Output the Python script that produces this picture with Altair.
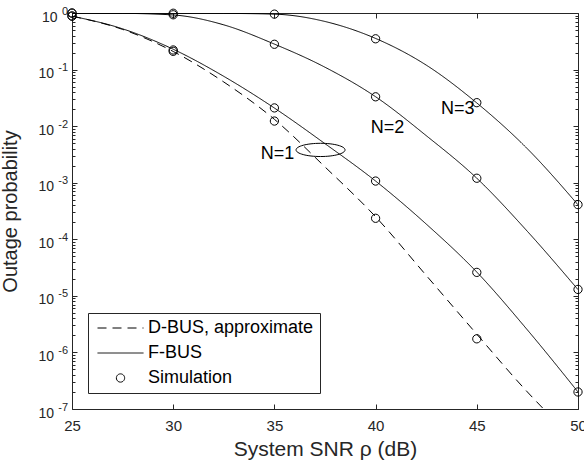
import altair as alt
import pandas as pd

# ---------------- data ----------------
kinds = ["D-BUS, approximate", "F-BUS", "Simulation"]

snr_grid = [25, 27.5, 30, 32.5, 35, 37.5, 40, 42.5, 45, 47.5, 50]
fbus_n1 = [0.88, 0.525, 0.229, 0.0759, 0.0209, 4.9e-3, 1.07e-3, 1.86e-4, 2.63e-5, 2.5e-6, 2.0e-7]
fbus_n2 = [0.995, 0.986, 0.923, 0.617, 0.282, 0.110, 0.0331, 6.8e-3, 1.2e-3, 1.38e-4, 1.29e-5]
fbus_n3 = [1.0, 0.998, 0.993, 0.985, 0.955, 0.708, 0.355, 0.120, 0.0257, 3.98e-3, 4.07e-4]

dbus_snr = [25, 27.5, 30, 32.5, 35, 37.5, 40, 42.5, 45, 47.5, 48.3]
dbus_n1 = [0.88, 0.513, 0.209, 0.0603, 0.0132, 1.9e-3, 2.5e-4, 2.3e-5, 2.1e-6, 2.0e-7, 1.0e-7]

sim_snr = [25, 30, 35, 40, 45, 50]
sim_n1 = [0.885, 0.222, 0.021, 1.07e-3, 2.6e-5, 2.0e-7]
sim_n2 = [0.995, 0.93, 0.28, 0.033, 1.2e-3, 1.3e-5]
sim_n3 = [1.0, 0.99, 0.955, 0.35, 0.026, 4.1e-4]
sim_dbus_snr = [25, 30, 35, 40, 45]
sim_dbus = [0.88, 0.21, 0.0123, 2.35e-4, 1.74e-6]

ann_text = ["N=1", "N=2", "N=3"]
ann_x = [35.15, 40.59, 44.06]
ann_y = [3.24e-3, 9.3e-3, 2.04e-2]
ellipse_x = [37.28]
ellipse_y = [3.8e-3]

x_ticks = [25, 30, 35, 40, 45, 50]
y_major = [1, 1e-1, 1e-2, 1e-3, 1e-4, 1e-5, 1e-6, 1e-7]
y_exponents = ["0", "-1", "-2", "-3", "-4", "-5", "-6", "-7"]
minor_mult = [2, 3, 4, 5, 6, 7, 8, 9]
y_minor = [m * 10.0 ** k for k in range(-7, 0) for m in minor_mult]

# ---------------- tables ----------------
def curve_rows(specs):
    out = []
    for name, xs_, ys_, kind in specs:
        for a, b in zip(xs_, ys_):
            out.append({"snr": a, "p": b, "curve": name, "kind": kind})
    return pd.DataFrame(out)

solid_df = curve_rows([("F1", snr_grid, fbus_n1, "F-BUS"),
                       ("F2", snr_grid, fbus_n2, "F-BUS"),
                       ("F3", snr_grid, fbus_n3, "F-BUS")])
dashed_df = curve_rows([("D1", dbus_snr, dbus_n1, "D-BUS, approximate")])
simf_df = curve_rows([("S1", sim_snr, sim_n1, "Simulation"),
                      ("S2", sim_snr, sim_n2, "Simulation"),
                      ("S3", sim_snr, sim_n3, "Simulation")])
simd_df = curve_rows([("SD", sim_dbus_snr, sim_dbus, "Simulation")])
ann_df = pd.DataFrame({"snr": ann_x, "p": ann_y, "t": ann_text})
ell_df = pd.DataFrame({"snr": ellipse_x, "p": ellipse_y})

# ---------------- styling ----------------
FONT = "Liberation Sans"
AX = "#262626"
xsc = alt.Scale(domain=[25, 50], nice=False, zero=False)
ysc = alt.Scale(type="log", domain=[1e-7, 1], nice=False)

circle_path = "M-0.18,0A0.18,0.18 0 1,0 0.18,0A0.18,0.18 0 1,0 -0.18,0Z"
ellipse_path = "M-1,0A1,0.27 0 1,0 1,0A1,0.27 0 1,0 -1,0Z"

exp_expr = "[" + ",".join("'%s'" % s for s in y_exponents) + "][round(-log(datum.value)/LN10)]"

legend = alt.Legend(
    title=None, orient="bottom-left", offset=16,
    symbolSize=2116, symbolStrokeWidth=1, symbolStrokeColor="black",
    symbolFillColor="transparent", symbolOpacity=1, symbolOffset=3, clipHeight=18,
    labelFont=FONT, labelFontSize=18, labelColor="black", labelOffset=4, labelLimit=400,
    strokeColor=AX, fillColor="white", padding=6, rowPadding=7,
)
dash_scale = alt.Scale(domain=kinds, range=[[9, 6], [1, 0], [1, 0]])
shape_scale = alt.Scale(domain=kinds, range=["stroke", "stroke", circle_path])

x_bottom = alt.Axis(orient="bottom", values=x_ticks, offset=-5, tickSize=5, format="d",
                    title="System SNR ρ (dB)", titlePadding=5, labelPadding=9, titleFontSize=21)
x_top = alt.Axis(orient="top", values=x_ticks, offset=-5, tickSize=5, labels=False, title=None)

# left: major ticks + "10" bases for negative exponents (and the axis title)
y_left_main = alt.Axis(orient="left", values=y_major, offset=-5, tickSize=5,
                       labelExpr="datum.value == 1 ? '' : '10'", labelFontSize=14,
                       labelPadding=18.5, labelOffset=4,
                       title="Outage probability", titlePadding=17, titleFontSize=20)
# "10" base for 10^0
y_left_one = alt.Axis(orient="left", values=[1], ticks=False, labelExpr="'10'",
                      labelFontSize=14, labelPadding=15, labelOffset=4, title=None)
# exponents
y_left_exp = alt.Axis(orient="left", values=y_major, ticks=False, labelExpr=exp_expr,
                      labelFontSize=11, labelPadding=4.5, labelOffset=-2, title=None)
y_left_minor = alt.Axis(orient="left", values=y_minor, offset=-3, tickSize=3, labels=False, title=None)
y_right = alt.Axis(orient="right", values=y_major, offset=-5, tickSize=5, labels=False, title=None)
y_right_minor = alt.Axis(orient="right", values=y_minor, offset=-3, tickSize=3, labels=False, title=None)

solid = alt.Chart(solid_df).mark_line(
    interpolate="monotone", color="black", strokeWidth=1, clip=True
).encode(
    x=alt.X("snr:Q", scale=xsc, axis=x_bottom),
    y=alt.Y("p:Q", scale=ysc, axis=y_left_main),
    detail="curve:N",
    strokeDash=alt.StrokeDash("kind:N", scale=dash_scale, legend=legend),
)

dashed = alt.Chart(dashed_df).mark_line(
    interpolate="monotone", color="black", strokeWidth=1, clip=True
).encode(
    x=alt.X("snr:Q", scale=xsc, axis=x_top),
    y=alt.Y("p:Q", scale=ysc, axis=y_left_one),
    detail="curve:N",
    strokeDash=alt.StrokeDash("kind:N", scale=dash_scale, legend=legend),
)

pts_f = alt.Chart(simf_df).mark_point(
    filled=False, color="black", strokeWidth=1, size=2116, opacity=1
).encode(
    x=alt.X("snr:Q", scale=xsc, axis=None),
    y=alt.Y("p:Q", scale=ysc, axis=y_left_exp),
    shape=alt.Shape("kind:N", scale=shape_scale, legend=legend),
)

pts_d = alt.Chart(simd_df).mark_point(
    filled=False, color="black", strokeWidth=1, size=2116, opacity=1
).encode(
    x=alt.X("snr:Q", scale=xsc, axis=None),
    y=alt.Y("p:Q", scale=ysc, axis=y_left_minor),
    shape=alt.Shape("kind:N", scale=shape_scale, legend=legend),
)

ellipse = alt.Chart(ell_df).mark_point(
    filled=False, color="black", strokeWidth=1, size=2401, shape=ellipse_path, opacity=1
).encode(
    x=alt.X("snr:Q", scale=xsc, axis=None),
    y=alt.Y("p:Q", scale=ysc, axis=y_right),
)

texts = alt.Chart(ann_df).mark_text(
    font=FONT, fontSize=18, color="black", align="center", baseline="middle"
).encode(
    x=alt.X("snr:Q", scale=xsc, axis=None),
    y=alt.Y("p:Q", scale=ysc, axis=y_right_minor),
    text="t:N",
)

chart = alt.layer(solid, dashed, pts_f, pts_d, ellipse, texts).resolve_axis(
    x="independent", y="independent"
).properties(
    width=506, height=396, background="white",
    autosize=alt.AutoSizeParams(type="none"),
    padding={"left": 72, "top": 13, "right": 6, "bottom": 59},
).configure_view(
    stroke=AX, strokeWidth=1
).configure_axis(
    grid=False, domain=False, labelFont=FONT, titleFont=FONT, labelFontSize=15,
    titleFontWeight="normal", labelColor=AX, titleColor=AX,
    tickColor=AX, tickWidth=1, labelFlush=False, labelOverlap=False,
)

chart.save("out.html", embed_options={"renderer": "svg", "actions": False})
